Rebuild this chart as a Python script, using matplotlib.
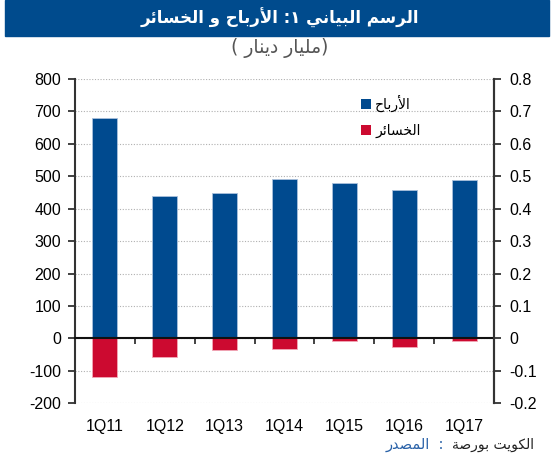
import matplotlib
matplotlib.use("Agg")
import matplotlib.pyplot as plt
from matplotlib.patches import Rectangle, Patch
import numpy as np

# data (billion dinar scale on left axis)
categories = ['1Q11', '1Q12', '1Q13', '1Q14', '1Q15', '1Q16', '1Q17']
profits = [680, 440, 450, 491, 479, 457, 488]
losses = [-120, -58, -36, -32, -8, -26, -9]
left_ticks = [800, 700, 600, 500, 400, 300, 200, 100, 0, -100, -200]
right_ticks = [0.8, 0.7, 0.6, 0.5, 0.4, 0.3, 0.2, 0.1, 0, -0.1, -0.2]

# texts in logical (reading) order
title_words = ['الرسم', 'البياني', '١:', 'الأرباح', 'و', 'الخسائر']
unit_words = ['مليار', 'دينار']
profit_lbl = 'الأرباح'
loss_lbl = 'الخسائر'
src_lbl = 'المصدر'
src_words = ['بورصة', 'الكويت']

BLUE = '#004a8f'
RED = '#cc0a30'

# presentation forms: isolated, final, initial, medial
FORMS = {
    'ا': ('\uFE8D', '\uFE8E', None, None),
    'أ': ('\uFE83', '\uFE84', None, None),
    'ب': ('\uFE8F', '\uFE90', '\uFE91', '\uFE92'),
    'ت': ('\uFE95', '\uFE96', '\uFE97', '\uFE98'),
    'ة': ('\uFE93', '\uFE94', None, None),
    'ح': ('\uFEA1', '\uFEA2', '\uFEA3', '\uFEA4'),
    'خ': ('\uFEA5', '\uFEA6', '\uFEA7', '\uFEA8'),
    'د': ('\uFEA9', '\uFEAA', None, None),
    'ر': ('\uFEAD', '\uFEAE', None, None),
    'س': ('\uFEB1', '\uFEB2', '\uFEB3', '\uFEB4'),
    'ص': ('\uFEB9', '\uFEBA', '\uFEBB', '\uFEBC'),
    'ك': ('\uFED9', '\uFEDA', '\uFEDB', '\uFEDC'),
    'ل': ('\uFEDD', '\uFEDE', '\uFEDF', '\uFEE0'),
    'م': ('\uFEE1', '\uFEE2', '\uFEE3', '\uFEE4'),
    'ن': ('\uFEE5', '\uFEE6', '\uFEE7', '\uFEE8'),
    'و': ('\uFEED', '\uFEEE', None, None),
    'ي': ('\uFEF1', '\uFEF2', '\uFEF3', '\uFEF4'),
    'ئ': ('\uFE89', '\uFE8A', '\uFE8B', '\uFE8C'),
}
LAMALEF = {'ا': ('\uFEFB', '\uFEFC'), 'أ': ('\uFEF7', '\uFEF8')}


def shape(word):
    # join letters and put them in visual (left-to-right) order
    res = []
    i = 0
    n = len(word)
    while i < n:
        c = word[i]
        prev = word[i - 1] if i > 0 else None
        jp = prev in FORMS and FORMS[prev][2] is not None
        if c == 'ل' and i + 1 < n and word[i + 1] in LAMALEF:
            iso, fin = LAMALEF[word[i + 1]]
            res.append(fin if jp else iso)
            i += 2
            continue
        if c not in FORMS:
            res.append(c)
            i += 1
            continue
        f = FORMS[c]
        nxt = word[i + 1] if i + 1 < n else None
        jn = f[2] is not None and nxt in FORMS
        if jp and jn:
            g = f[3]
        elif jp:
            g = f[1]
        elif jn:
            g = f[2]
        else:
            g = f[0]
        res.append(g)
        i += 1
    return ''.join(reversed(res))


def rtl(words):
    return ' '.join(shape(w) for w in reversed(words))


LAT = ['Liberation Sans', 'DejaVu Sans']
AR = ['DejaVu Sans']

fig = plt.figure(figsize=(5.54, 4.68), dpi=100)
ax = fig.add_axes([75 / 554, 1 - 403.3 / 468, 419 / 554, 324.3 / 468])

x = np.arange(len(categories))
ax.bar(x, profits, width=0.42, color=BLUE, edgecolor='#a9c0dc', linewidth=0.6, zorder=3)
ax.bar(x, losses, width=0.42, color=RED, edgecolor='#f2a9b8', linewidth=0.6, zorder=3)

ax.set_xlim(-0.5, len(categories) - 0.5)
ax.set_ylim(-200, 800)
ax.set_yticks(left_ticks)
ax.set_yticklabels([str(v) for v in left_ticks], fontsize=11.5, family=LAT)
ax.set_xticks(x)
ax.set_xticklabels(categories, fontsize=11.5, family=LAT)
ax.tick_params(axis='x', length=0, pad=11)
ax.tick_params(axis='y', direction='out', length=5, width=1.3, color='#333333', pad=5)

ax.grid(axis='y', linestyle=(0, (1, 1.5)), color='#b0b0b0', linewidth=0.8, zorder=0)
for s in ['top', 'bottom']:
    ax.spines[s].set_visible(False)
for s in ['left', 'right']:
    ax.spines[s].set_color('#333333')
    ax.spines[s].set_linewidth(1.5)

# zero line with category separator ticks
sec = ax.secondary_xaxis(0.2)
sec.set_xticks(x[:-1] + 0.5)
sec.set_xticklabels([''] * (len(x) - 1))
sec.tick_params(direction='out', length=4, width=1.2, color='#222222')
sec.spines['bottom'].set_color('#111111')
sec.spines['bottom'].set_linewidth(1.5)
sec.set_zorder(4)

ax2 = ax.twinx()
ax2.set_ylim(-0.2, 0.8)
ax2.set_yticks(right_ticks)
ax2.set_yticklabels([('%g' % v) for v in right_ticks], fontsize=11.5, family=LAT)
ax2.tick_params(axis='y', direction='out', length=5, width=1.3, color='#333333', pad=6)
for s in ['top', 'bottom', 'left']:
    ax2.spines[s].set_visible(False)
ax2.spines['right'].set_color('#333333')
ax2.spines['right'].set_linewidth(1.5)

handles = [Patch(facecolor=BLUE, label=shape(profit_lbl)),
           Patch(facecolor=RED, label=shape(loss_lbl))]
ax2.legend(handles=handles, loc='upper left', bbox_to_anchor=(0.652, 0.99),
           frameon=False, handlelength=0.75, handleheight=0.75, handletextpad=0.3,
           labelspacing=0.85, prop={'family': AR, 'size': 10})

# title banner
fig.patches.append(Rectangle((5 / 554, 1 - 36 / 468), 544 / 554, 36 / 468,
                             transform=fig.transFigure, color='#004b8d', zorder=0))
fig.text(280 / 554, 1 - 18 / 468, rtl(title_words), ha='center', va='center',
         color='white', fontsize=12, fontweight='bold', family=AR)
fig.text(280 / 554, 1 - 48 / 468, '( ' + rtl(unit_words) + ')', ha='center',
         va='center', color='#555555', fontsize=13.5, family=AR)

# source line (laid out left to right in the reference)
fig.text(386 / 554, 1 - 445 / 468, shape(src_lbl) + '  :', ha='left', va='center',
         color='#2a62a8', fontsize=10.5, family=AR)
fig.text(452 / 554, 1 - 445 / 468, ' '.join(shape(w) for w in src_words), ha='left',
         va='center', color='#222222', fontsize=10, family=AR)

fig.savefig('out.png', dpi=100)
